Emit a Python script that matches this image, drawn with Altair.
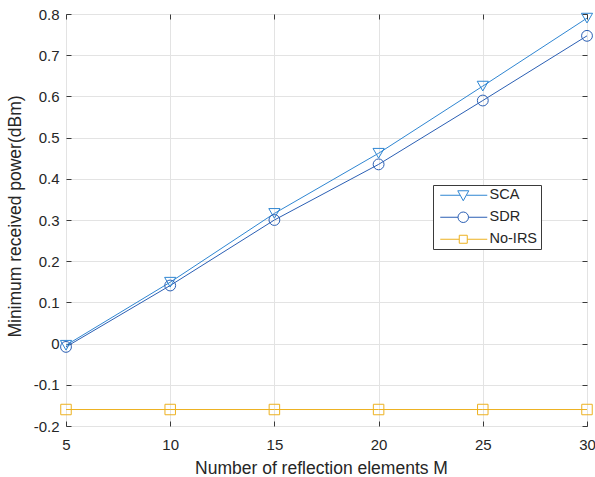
import altair as alt
import pandas as pd

# ---- data ----
M = [5, 10, 15, 20, 25, 30]
sca = [-0.004, 0.149, 0.316, 0.462, 0.625, 0.790]
sdr = [-0.008, 0.141, 0.300, 0.435, 0.590, 0.747]
no_irs = [-0.160, -0.160, -0.160, -0.160, -0.160, -0.160]
series_names = ["SCA", "SDR", "No-IRS"]
series_colors = ["#2f86d2", "#2b5fb4", "#EDB120"]
x_ticks = [5, 10, 15, 20, 25, 30]
y_ticks = [-0.2, -0.1, 0.0, 0.1, 0.2, 0.3, 0.4, 0.5, 0.6, 0.7, 0.8]

rows = []
for name, vals in zip(series_names, [sca, sdr, no_irs]):
    for m, v in zip(M, vals):
        rows.append({"M": m, "value": v, "series": name})
df = pd.DataFrame(rows)

W, H = 521, 412
FONT = "Liberation Sans"
TXT = "#262626"
AX = "#3a3a3a"

xscale = alt.Scale(domain=[5, 30], nice=False, zero=False)
yscale = alt.Scale(domain=[-0.2, 0.8], nice=False, zero=False)
cscale = alt.Scale(domain=series_names, range=series_colors)

yfmt = ("abs(datum.value) < 1e-9 ? '0\u00a0\u2009' : "
        "replace(format(datum.value, '.1f'), '\u2212', '-')")

base = alt.Chart(df)

# layer 1: lines + labelled axes + grid
lines = base.mark_line(strokeWidth=1).encode(
    x=alt.X("M:Q", scale=xscale,
            axis=alt.Axis(orient="bottom", values=x_ticks, title="Number of reflection elements M",
                          grid=True, gridColor="#e3e3e3", ticks=False, tickSize=0, domain=False,
                          labelFlush=False, labelOverlap=False,
                          labelPadding=11, labelFontSize=15, labelColor=TXT, labelFont=FONT,
                          titleFont=FONT, titleFontSize=17.5, titleFontWeight="normal", titleColor=TXT,
                          titlePadding=7, titleX=255)),
    y=alt.Y("value:Q", scale=yscale,
            axis=alt.Axis(orient="left", values=y_ticks, title="Minimum received power(dBm)",
                          grid=True, gridColor="#e3e3e3", ticks=False, tickSize=0, domain=False,
                          labelFlush=False, labelOverlap=False,
                          labelPadding=7, labelFontSize=15, labelColor=TXT, labelFont=FONT,
                          labelExpr=yfmt,
                          titleFont=FONT, titleFontSize=17.5, titleFontWeight="normal", titleColor=TXT,
                          titlePadding=9, titleY=202)),
    color=alt.Color("series:N", scale=cscale, legend=None),
)

# layer 2: hollow markers + inward ticks at bottom and left
points = base.mark_point(filled=False, strokeWidth=1, opacity=1).encode(
    x=alt.X("M:Q", scale=xscale,
            axis=alt.Axis(orient="top", offset=-H, values=x_ticks, labels=False, title=None,
                          grid=False, ticks=True, tickSize=5, tickColor=AX, domain=False)),
    y=alt.Y("value:Q", scale=yscale,
            axis=alt.Axis(orient="right", offset=-W, values=y_ticks, labels=False, title=None,
                          grid=False, ticks=True, tickSize=5, tickColor=AX, domain=False)),
    color=alt.Color("series:N", scale=cscale, legend=None),
    shape=alt.Shape("series:N", scale=alt.Scale(domain=series_names,
                                                 range=["triangle-down", "circle", "square"]),
                    legend=None),
    size=alt.Size("series:N", scale=alt.Scale(domain=series_names, range=[125, 110, 64]),
                  legend=None),
)

# legend symbols: line with hollow marker (path units of 5 px)
leg_paths = [
    "M-0.6,0L3.35,0M4.65,0L8.8,0M2.9,-0.9L5.1,-0.9L4,1.1Z",
    "M-0.6,0L2.95,0M5.05,0L8.8,0M2.95,0A1.05,1.05,0,1,0,5.05,0A1.05,1.05,0,1,0,2.95,0",
    "M-0.6,0L3.2,0M4.8,0L8.8,0M3.2,-0.8L4.8,-0.8L4.8,0.8L3.2,0.8Z",
]

# layer 3: legend only (no marks) + inward ticks at top and right
legend_layer = base.transform_filter("datum.M < 0").mark_point(
    filled=False, strokeWidth=1, size=100, opacity=1
).encode(
    x=alt.X("M:Q", scale=xscale,
            axis=alt.Axis(orient="bottom", offset=-H, values=x_ticks, labels=False, title=None,
                          grid=False, ticks=True, tickSize=5, tickColor=AX, domain=False)),
    y=alt.Y("value:Q", scale=yscale,
            axis=alt.Axis(orient="left", offset=-W, values=y_ticks, labels=False, title=None,
                          grid=False, ticks=True, tickSize=5, tickColor=AX, domain=False)),
    color=alt.Color("series:N", scale=cscale,
                    legend=alt.Legend(title=None, orient="none", legendX=367, legendY=171)),
    shape=alt.Shape("series:N", scale=alt.Scale(domain=series_names, range=leg_paths),
                    legend=alt.Legend(title=None, orient="none", legendX=367, legendY=171)),
)

chart = alt.layer(lines, points, legend_layer).resolve_scale(
    color="independent", shape="independent", size="independent"
).resolve_axis(
    x="independent", y="independent"
).properties(
    width=W, height=H,
    autosize=alt.AutoSizeParams(type="none"),
    padding={"left": 66, "top": 14, "right": 8, "bottom": 51},
    background="white",
).configure_view(
    stroke=AX, strokeWidth=1
).configure_legend(
    strokeColor="#3a3a3a", fillColor="white", padding=3, cornerRadius=0,
    labelFont=FONT, labelFontSize=14.5, labelColor=TXT, labelOffset=39,
    symbolSize=100, symbolStrokeWidth=1, rowPadding=6, labelLimit=200,
)

chart.save("out.html", embed_options={"renderer": "svg", "actions": False})
